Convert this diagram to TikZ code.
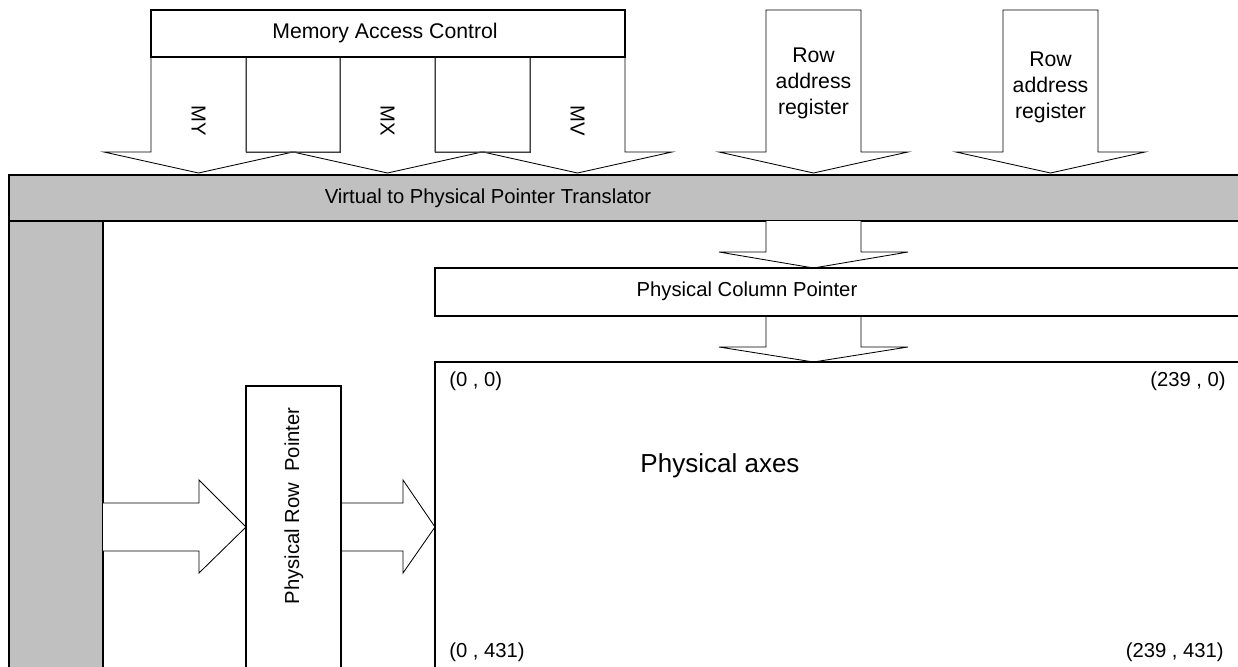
\documentclass[tikz,border=0pt]{standalone}
\usepackage{fontspec}
\setmainfont{Liberation Sans}
\definecolor{bargray}{HTML}{C0C0C0}
\tikzset{
  thickbox/.style={draw, line width=1.4pt},
  blockarrow/.style={draw, fill=white, line width=0.6pt},
  lbl/.style={font=\fontsize{14.4}{18.5}\selectfont, inner sep=0pt},
  biglbl/.style={font=\fontsize{15.1}{18.5}\selectfont, inner sep=0pt},
}

\begin{document}
\begin{tikzpicture}[x=0.025cm, y=-0.025cm]
\useasboundingbox (0,0) rectangle (1238,666);
% arrows out of memory access control
\foreach \xl/\nm in {151/MY, 340/MX, 530/MV} {
  \draw[blockarrow] (\xl,57) -- (\xl,152) -- ({\xl-47},152) -- ({\xl+47.5},173)
    -- ({\xl+142},152) -- ({\xl+95},152) -- ({\xl+95},57);
  \node[lbl, rotate=-90] (\nm) at ({\xl+47.5},121) {\nm};
}
\draw[line width=0.6pt, draw=black!75] (246,57) rectangle (340,152);
\draw[line width=0.6pt, draw=black!75] (435,57) rectangle (530,152);
\draw[thickbox, fill=white] (151,10) rectangle (625,57);
\node[biglbl] (mac) at (385,33) {Memory Access Control};
% row address registers
\foreach \xl/\ty/\nm in {766/83/rowregA, 1003/87/rowregB} {
  \draw[blockarrow] (\xl,10) -- (\xl,152) -- ({\xl-47},152) -- ({\xl+47.5},173)
    -- ({\xl+142},152) -- ({\xl+95},152) -- ({\xl+95},10) -- cycle;
  \node[biglbl, align=center] (\nm) at ({\xl+47.5},\ty) {Row\\address\\register};
}
% translator bar and left column
\draw[thickbox, fill=bargray] (9,175) rectangle (1260,221);
\draw[thickbox, fill=bargray] (9,221) rectangle (103,690);
\node[lbl] (vppt) at (488,198) {Virtual to Physical Pointer Translator};
% column pointer
\draw[blockarrow] (766,221) -- (766,252) -- (719,252) -- (813.5,268) -- (908,252)
  -- (861,252) -- (861,221);
\draw[blockarrow] (766,316) -- (766,347) -- (719,347) -- (813.5,362) -- (908,347)
  -- (861,347) -- (861,316);
\draw[thickbox] (435,268) rectangle (1260,316);
\node[lbl] (colptr) at (747,291) {Physical Column Pointer};
% row pointer
\draw[blockarrow] (103,503) -- (199,503) -- (199,480) -- (246,527) -- (199,573)
  -- (199,551) -- (103,551);
\draw[blockarrow] (341,503) -- (403,503) -- (403,480) -- (435,527) -- (403,573)
  -- (403,551) -- (341,551);
\draw[thickbox] (246,386) rectangle (341,690);
\node[lbl, rotate=90] (rowptr) at (294,506) {Physical Row\ \ Pointer};
% physical axes
\draw[thickbox] (435,362) rectangle (1260,690);
\node[font=\fontsize{18.5}{22}\selectfont, inner sep=0pt] (axes) at (720,466) {Physical axes};
\node[lbl, anchor=west] (topleft) at (449,381) {(0 , 0)};
\node[lbl, anchor=east] (topright) at (1226,381) {(239 , 0)};
\node[lbl, anchor=west] (botleft) at (449,652) {(0 , 431)};
\node[lbl, anchor=east] (botright) at (1224,652) {(239 , 431)};
\end{tikzpicture}
\end{document}
